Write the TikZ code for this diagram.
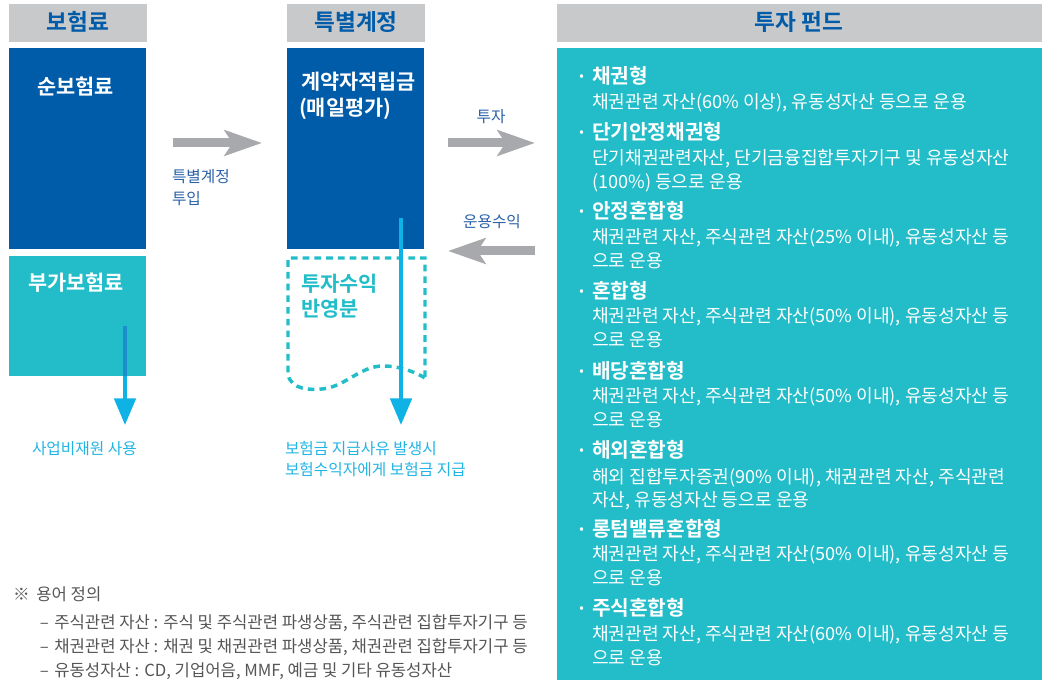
\documentclass[tikz,border=0pt]{standalone}
\usepackage{fontspec}
\setmainfont{Noto Sans CJK KR}[BoldFont={Noto Sans CJK KR Bold}]
\usetikzlibrary{arrows.meta}
\definecolor{hdrgray}{HTML}{C8C9CB}
\definecolor{dblue}{HTML}{005BA9}
\definecolor{teal}{HTML}{22BDC8}
\definecolor{lblue}{HTML}{0FB2E4}
\definecolor{darr}{HTML}{1C8ECB}
\definecolor{agray}{HTML}{A7A9AC}
\definecolor{tblue}{HTML}{2B62A8}
\definecolor{ltxt}{HTML}{22B4E4}
\definecolor{ntxt}{HTML}{555555}
\tikzset{
  t/.style={inner sep=0pt, outer sep=0pt, text height=0.78em, text depth=0.04em, anchor=west, yshift=-2.2pt},
  hdrbox/.style={fill=hdrgray, draw=none},
  hdrtxt/.style={t, anchor=center, text=dblue, font=\fontsize{17pt}{20pt}\selectfont\bfseries},
  boxtxt/.style={t, text=white, font=\fontsize{15.6pt}{18pt}\selectfont\bfseries},
  lbl/.style={t, text=tblue, font=\fontsize{11.8pt}{14pt}\selectfont},
  ltx/.style={t, text=ltxt, font=\fontsize{11.8pt}{14pt}\selectfont},
  fhd/.style={t, text=white, font=\fontsize{15.2pt}{18pt}\selectfont\bfseries},
  fbd/.style={t, text=white, font=\fontsize{13.6pt}{16pt}\selectfont},
  bul/.style={t, anchor=center, text=white, font=\fontsize{14pt}{16pt}\selectfont\bfseries},
  note/.style={t, text=ntxt, font=\fontsize{12.5pt}{15pt}\selectfont},
  garrow/.style={draw=agray, line width=6.75pt, -{Stealth[length=28pt, width=19pt, inset=6pt]}},
  barrow/.style={draw=lblue, line width=3pt, -{Triangle[length=20pt, width=16pt]}},
}
\begin{document}
\begin{tikzpicture}[x=0.75pt, y=-0.75pt]
\useasboundingbox (0,0) rectangle (1047,680);
% headers
\fill[hdrgray] (9,4) rectangle (147,42);
\fill[hdrgray] (287,4) rectangle (425,42);
\fill[hdrgray] (557,4) rectangle (1042,42);
\node[hdrtxt] (h1) at (78,23) {보험료};
\node[hdrtxt] (h2) at (356,23) {특별계정};
\node[hdrtxt] (h3) at (799,23) {투자 펀드};
% left boxes
\fill[dblue] (9,48) rectangle (146,249);
\fill[teal] (9,256) rectangle (146,376);
\node[boxtxt] (pure) at (37,87) {순보험료};
\node[boxtxt] (add) at (28,283) {부가보험료};
% middle box
\fill[dblue] (287,48) rectangle (424,249);
\node[boxtxt] (resv) at (301,82) {계약자적립금};
\node[boxtxt] (resv2) at (299,108) {(매일평가)};
\draw[teal, line width=2.6pt, dash pattern=on 5pt off 3.8pt]
  (425,377) -- (425,258) -- (288,258) -- (288,375)
  .. controls (292,390) and (310,390) .. (322,389)
  .. controls (345,387) and (360,366) .. (383,366)
  .. controls (400,366) and (415,372) .. (425,378);
\node[t, text=teal, font=\fontsize{15.6pt}{18pt}\selectfont\bfseries] (ret1) at (301,284) {투자수익};
\node[t, text=teal, font=\fontsize{15.6pt}{18pt}\selectfont\bfseries] (ret2) at (301,309) {반영분};
% right panel
\fill[teal] (557,48) rectangle (1042,680);
% gray arrows
\coordinate (a1s) at (173,143); \coordinate (a1e) at (262,143);
\coordinate (a2s) at (448,143); \coordinate (a2e) at (535,143);
\coordinate (a3s) at (535,251); \coordinate (a3e) at (448,251);
\draw[garrow] (a1s) -- (a1e);
\draw[garrow] (a2s) -- (a2e);
\draw[garrow] (a3s) -- (a3e);
\node[lbl] (l1a) at (172,175) {특별계정};
\node[lbl] (l1b) at (172,197) {투입};
\node[lbl, anchor=center] (l2) at (491,115) {투자};
\node[lbl, anchor=center] (l3) at (492,220) {운용수익};
% blue arrows
\coordinate (b1s) at (125,326); \coordinate (b1e) at (125,425);
\coordinate (b2s) at (401,218); \coordinate (b2e) at (401,425);
\draw[barrow] (b1s) -- (b1e);
\draw[draw=darr, line width=3pt] (b1s) -- (125,376);
\draw[barrow] (b2s) -- (b2e);
\node[ltx] (u1) at (32,447) {사업비재원 사용};
\node[ltx] (u2a) at (285,447) {보험금 지급사유 발생시};
\node[ltx] (u2b) at (285,468) {보험수익자에게 보험금 지급};
% notes
\node[note] (n0) at (13,593) {※\hspace{5pt}용어 정의};
\node[note] (n1) at (40,621) {–\hspace{4pt}주식관련 자산 : 주식 및 주식관련 파생상품, 주식관련 집합투자기구 등};
\node[note] (n2) at (40,645) {–\hspace{4pt}채권관련 자산 : 채권 및 채권관련 파생상품, 채권관련 집합투자기구 등};
\node[note] (n3) at (40,669) {–\hspace{4pt}유동성자산 : CD, 기업어음, MMF, 예금 및 기타 유동성자산};
% fund list
\foreach \y in {76,132,211,291,371,450,529,608} {\node[bul] at (582,\y) {·};}
\node[fhd] (f1) at (592,76) {채권형};
\node[fbd] (f1a) at (592,101) {채권관련 자산(60\% 이상), 유동성자산 등으로 운용};
\node[fhd] (f2) at (592,132) {단기안정채권형};
\node[fbd] (f2a) at (592,157) {단기채권관련자산, 단기금융집합투자기구 및 유동성자산};
\node[fbd] (f2b) at (592,181) {(100\%) 등으로 운용};
\node[fhd] (f3) at (592,211) {안정혼합형};
\node[fbd] (f3a) at (592,236) {채권관련 자산, 주식관련 자산(25\% 이내), 유동성자산 등};
\node[fbd] (f3b) at (592,260) {으로 운용};
\node[fhd] (f4) at (592,291) {혼합형};
\node[fbd] (f4a) at (592,315) {채권관련 자산, 주식관련 자산(50\% 이내), 유동성자산 등};
\node[fbd] (f4b) at (592,339) {으로 운용};
\node[fhd] (f5) at (592,371) {배당혼합형};
\node[fbd] (f5a) at (592,395) {채권관련 자산, 주식관련 자산(50\% 이내), 유동성자산 등};
\node[fbd] (f5b) at (592,419) {으로 운용};
\node[fhd] (f6) at (592,450) {해외혼합형};
\node[fbd] (f6a) at (592,476) {해외 집합투자증권(90\% 이내), 채권관련 자산, 주식관련};
\node[fbd] (f6b) at (592,499) {자산, 유동성자산 등으로 운용};
\node[fhd] (f7) at (592,529) {롱텀밸류혼합형};
\node[fbd] (f7a) at (592,553) {채권관련 자산, 주식관련 자산(50\% 이내), 유동성자산 등};
\node[fbd] (f7b) at (592,577) {으로 운용};
\node[fhd] (f8) at (592,608) {주식혼합형};
\node[fbd] (f8a) at (592,633) {채권관련 자산, 주식관련 자산(60\% 이내), 유동성자산 등};
\node[fbd] (f8b) at (592,657) {으로 운용};
\end{tikzpicture}
\end{document}
